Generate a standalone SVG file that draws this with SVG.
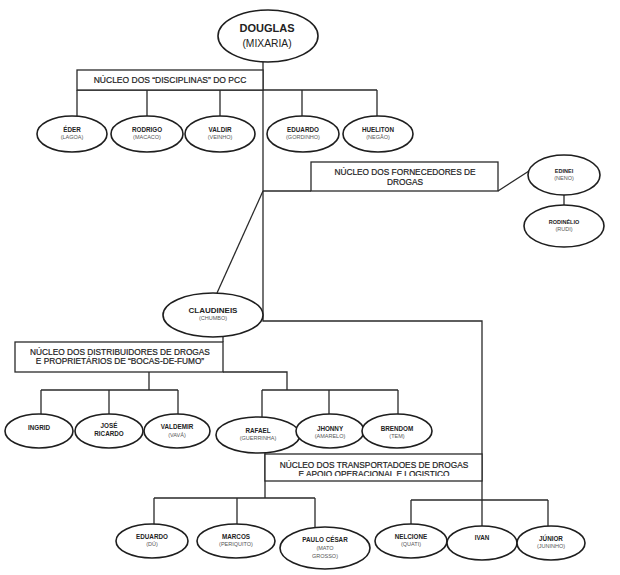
<svg xmlns="http://www.w3.org/2000/svg" width="620" height="575" viewBox="0 0 620 575">
<style>
.bg{fill:#ffffff}
.ln{fill:none;stroke:#2a2a2a;stroke-width:1.3}
.el{fill:#ffffff;stroke:#1e1e1e;stroke-width:1.6}
.bx{fill:#ffffff;stroke:#2a2a2a;stroke-width:1.3}
text{font-family:"Liberation Sans",Arial,sans-serif;text-anchor:middle;fill:#222}
.nm{font-size:6.3px;font-weight:bold}
.nk{font-size:5.5px;fill:#555}
.bt{font-size:8.3px;fill:#222;stroke:#222;stroke-width:0.2}
</style>
<defs>
<clipPath id="tclip"><rect x="265" y="454" width="217" height="22"/></clipPath>
</defs>
<rect class="bg" x="0" y="0" width="620" height="575"/>
<g id="connectors">
<path class="ln" d="M263 62 V321 H482 V527"/>
<path class="ln" d="M77 90 H377 M77 90 V116 M147 90 V116 M220 90 V116 M302 90 V116 M377 90 V116"/>
<path class="ln" d="M263 191 H311 M498 191 L529 171 M564 195 V205"/>
<path class="ln" d="M263 191 L217 293"/>
<path class="ln" d="M223 336 V342 M223 372 H287 V390 M149 372 V390 M41 390 H178 M41 390 V416 M109 390 V414 M178 390 V414 M262 390 H398 M262 390 V417 M329 390 V414 M398 390 V414"/>
<path class="ln" d="M265 452 V498 M154 498 H315 M154 498 V525 M237 498 V525 M315 498 V527 M411 500 H548 M411 500 V525 M548 500 V526"/>
</g>
<g id="douglas">
<ellipse class="el" cx="268" cy="36" rx="50" ry="26"/>
<text x="267" y="32" style="font-size:11px;font-weight:bold">DOUGLAS</text>
<text x="267" y="47" style="font-size:10.3px">(MIXARIA)</text>
</g>
<g id="nucleo-disciplinas">
<rect class="bx" x="77" y="70" width="186" height="20"/>
<text class="bt" x="170" y="83" style="font-size:8.5px">NÚCLEO DOS “DISCIPLINAS” DO PCC</text>
</g>
<g id="eder">
<ellipse class="el" cx="72" cy="134" rx="35" ry="18"/>
<text class="nm" x="72" y="132">ÉDER</text><text class="nk" x="72" y="139">(LAGOA)</text>
</g>
<g id="rodrigo">
<ellipse class="el" cx="147" cy="134" rx="36" ry="18"/>
<text class="nm" x="147" y="132">RODRIGO</text><text class="nk" x="147" y="139">(MACACO)</text>
</g>
<g id="valdir">
<ellipse class="el" cx="220" cy="134" rx="35" ry="18"/>
<text class="nm" x="220" y="132">VALDIR</text><text class="nk" x="220" y="139">(VEINHO)</text>
</g>
<g id="eduardo-gordinho">
<ellipse class="el" cx="303" cy="134" rx="36" ry="18"/>
<text class="nm" x="303" y="132">EDUARDO</text><text class="nk" x="303" y="139">(GORDINHO)</text>
</g>
<g id="hueliton">
<ellipse class="el" cx="378" cy="134" rx="35" ry="18"/>
<text class="nm" x="378" y="132">HUELITON</text><text class="nk" x="378" y="139">(NEGÃO)</text>
</g>
<g id="nucleo-fornecedores">
<rect class="bx" x="311" y="162" width="187" height="29"/>
<text class="bt" x="405" y="175">NÚCLEO DOS FORNECEDORES DE</text>
<text class="bt" x="405" y="185">DROGAS</text>
</g>
<g id="edinei">
<ellipse class="el" cx="564" cy="175" rx="36" ry="20"/>
<text class="nm" x="564" y="173" style="font-size:5.5px">EDINEI</text><text class="nk" x="564" y="180">(NENO)</text>
</g>
<g id="rodinelio">
<ellipse class="el" cx="564" cy="226" rx="40" ry="21"/>
<text class="nm" x="564" y="224" style="font-size:5.5px">RODINÉLIO</text><text class="nk" x="564" y="231">(RUDI)</text>
</g>
<g id="claudineis">
<ellipse class="el" cx="213" cy="315" rx="50" ry="22"/>
<text x="213" y="313" style="font-size:8px;font-weight:bold">CLAUDINEIS</text>
<text class="nk" x="213" y="320">(CHUMBO)</text>
</g>
<g id="nucleo-distribuidores">
<rect class="bx" x="15" y="342" width="208" height="30"/>
<text class="bt" x="120" y="355">NÚCLEO DOS DISTRIBUIDORES DE DROGAS</text>
<text class="bt" x="120" y="364">E PROPRIETÁRIOS DE “BOCAS-DE-FUMO”</text>
</g>
<g id="ingrid">
<ellipse class="el" cx="39" cy="431" rx="34" ry="17"/>
<text class="nm" x="39" y="430">INGRID</text>
</g>
<g id="jose-ricardo">
<ellipse class="el" cx="109" cy="431" rx="34" ry="17"/>
<text class="nm" x="109" y="428">JOSÉ</text><text class="nm" x="109" y="436">RICARDO</text>
</g>
<g id="valdemir">
<ellipse class="el" cx="177" cy="431" rx="33" ry="17"/>
<text class="nm" x="177" y="429">VALDEMIR</text><text class="nk" x="177" y="437">(VAVÁ)</text>
</g>
<g id="rafael">
<ellipse class="el" cx="258" cy="435" rx="42" ry="18"/>
<text class="nm" x="258" y="433">RAFAEL</text><text class="nk" x="258" y="440">(GUERRINHA)</text>
</g>
<g id="jhonny">
<ellipse class="el" cx="330" cy="431" rx="34" ry="17"/>
<text class="nm" x="330" y="431">JHONNY</text><text class="nk" x="330" y="438">(AMARELO)</text>
</g>
<g id="brendom">
<ellipse class="el" cx="397" cy="431" rx="35" ry="17"/>
<text class="nm" x="397" y="431">BRENDOM</text><text class="nk" x="397" y="438">(TEM)</text>
</g>
<g id="nucleo-transportadores">
<rect class="bx" x="265" y="454" width="217" height="27"/>
<text class="bt" x="374" y="468">NÚCLEO DOS TRANSPORTADOES DE DROGAS</text>
<text class="bt" x="374" y="477" clip-path="url(#tclip)">E APOIO OPERACIONAL E LOGISTICO</text>
</g>
<g id="eduardo-du">
<ellipse class="el" cx="152" cy="541" rx="36" ry="17"/>
<text class="nm" x="152" y="539">EDUARDO</text><text class="nk" x="152" y="546">(DÚ)</text>
</g>
<g id="marcos">
<ellipse class="el" cx="236" cy="541" rx="39" ry="17"/>
<text class="nm" x="236" y="539">MARCOS</text><text class="nk" x="236" y="546">(PERIQUITO)</text>
</g>
<g id="paulo-cesar">
<ellipse class="el" cx="325" cy="548" rx="45" ry="21"/>
<text class="nm" x="325" y="542">PAULO CÉSAR</text><text class="nk" x="325" y="550">(MATO</text><text class="nk" x="325" y="558">GROSSO)</text>
</g>
<g id="nelcione">
<ellipse class="el" cx="411" cy="541" rx="36" ry="17"/>
<text class="nm" x="411" y="539">NELCIONE</text><text class="nk" x="411" y="546">(QUATI)</text>
</g>
<g id="ivan">
<ellipse class="el" cx="482" cy="543" rx="35" ry="17"/>
<text class="nm" x="482" y="540">IVAN</text>
</g>
<g id="junior">
<ellipse class="el" cx="551" cy="543" rx="34" ry="17"/>
<text class="nm" x="551" y="541">JÚNIOR</text><text class="nk" x="551" y="548">(JUNINHO)</text>
</g>
</svg>
